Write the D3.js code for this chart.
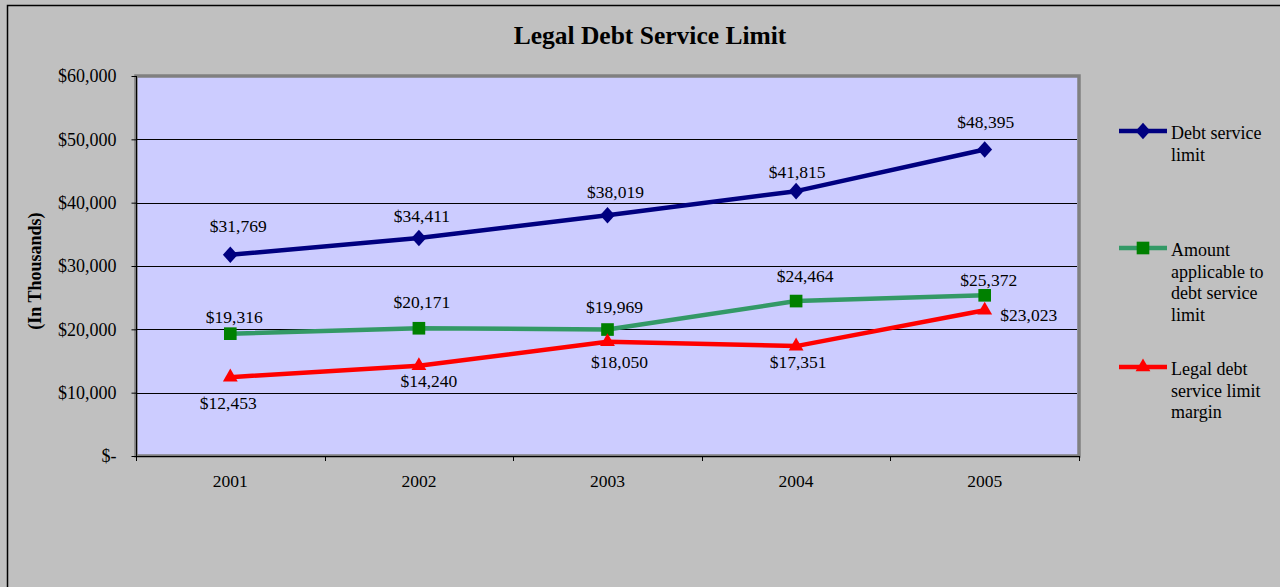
<!DOCTYPE html>
<html>
<head>
<meta charset="utf-8">
<script src="https://cdn.jsdelivr.net/npm/d3@7/dist/d3.min.js"></script>
<style>
  html, body { margin: 0; padding: 0; background: #C0C0C0; }
  svg { display: block; font-family: "Liberation Serif", "Times New Roman", serif; }
</style>
</head>
<body>
<svg id="chart" width="1280" height="587"></svg>
<script>
// ---- Data ----
const years = ["2001", "2002", "2003", "2004", "2005"];
const debtServiceLimit = [31769, 34411, 38019, 41815, 48395];
const amountApplicable = [19316, 20171, 19969, 24464, 25372];
const legalMargin = [12453, 14240, 18050, 17351, 23023];
const yTicks = [0, 10000, 20000, 30000, 40000, 50000, 60000];
const seriesNames = [["Debt service", "limit"], ["Amount", "applicable to", "debt service", "limit"], ["Legal debt", "service limit", "margin"]];

// label placement offsets (layout only)
const labelOffsets = [
  [[8, -29], [3, -22], [8, -23], [1, -19], [1, -27]],
  [[4, -17], [3, -26], [7, -23], [9, -25], [4, -15]],
  [[-2, 26], [10, 15], [12, 20], [2, 16], [44, 5]]
];

const svg = d3.select("#chart");
const W = 1280, H = 587;

// outer frame
svg.append("rect").attr("x", 0).attr("y", 0).attr("width", W).attr("height", H).attr("fill", "#C0C0C0");
svg.append("rect").attr("x", 7.5).attr("y", 5.5).attr("width", W + 10).attr("height", H + 10)
  .attr("fill", "none").attr("stroke", "#000").attr("stroke-width", 1.5);

const plot = { left: 136, top: 76, right: 1079, bottom: 456 };

const x = d3.scaleBand().domain(years).range([plot.left, plot.right]).padding(0);
const y = d3.scaleLinear().domain([0, 60000]).range([plot.bottom, plot.top]);
const cx = d => x(d) + x.bandwidth() / 2;

// plot area
svg.append("rect").attr("x", plot.left).attr("y", plot.top)
  .attr("width", plot.right - plot.left).attr("height", plot.bottom - plot.top)
  .attr("fill", "#CCCCFF").attr("stroke", "#808080").attr("stroke-width", 3.5);

// gridlines
svg.append("g").selectAll("line").data(yTicks.filter(v => v > 0 && v < 60000)).join("line")
  .attr("x1", plot.left).attr("x2", plot.right - 2)
  .attr("y1", d => Math.round(y(d)) + 0.5).attr("y2", d => Math.round(y(d)) + 0.5)
  .attr("stroke", "#000").attr("stroke-width", 1);

// y axis
const yAxis = d3.axisLeft(y).tickValues(yTicks).tickSize(5).tickPadding(15)
  .tickFormat(d => d === 0 ? "$-" : "$" + d3.format(",")(d));
const gy = svg.append("g").attr("transform", `translate(${plot.left + 0.5},0)`).call(yAxis);
gy.select(".domain").attr("stroke", "#000").attr("d", `M0,${plot.top}V${plot.bottom}`);
gy.selectAll(".tick line").attr("stroke", "#000");
gy.selectAll(".tick text").attr("font-size", 18).attr("fill", "#000")
  .attr("font-family", "Liberation Serif");

// x axis
const xAxis = d3.axisBottom(x).tickSize(0).tickPadding(18);
const gx = svg.append("g").attr("transform", `translate(0,${plot.bottom + 0.5})`).call(xAxis);
gx.select(".domain").attr("stroke", "#000").attr("d", `M${plot.left},0H${plot.right}`);
gx.selectAll(".tick text").attr("font-size", 17.5).attr("fill", "#000").attr("font-family", "Liberation Serif");
// category boundary ticks
const bounds = years.map(d => x(d)).concat([plot.right]);
svg.append("g").selectAll("line").data(bounds).join("line")
  .attr("x1", d => Math.round(d) + 0.5).attr("x2", d => Math.round(d) + 0.5)
  .attr("y1", plot.bottom).attr("y2", plot.bottom + 5)
  .attr("stroke", "#000");

// title
svg.append("text").attr("x", 650).attr("y", 44).attr("text-anchor", "middle")
  .attr("font-size", 25.5).attr("font-weight", "bold").text("Legal Debt Service Limit");

// y title
svg.append("text").attr("transform", "translate(41,271) rotate(-90)").attr("text-anchor", "middle")
  .attr("font-size", 18).attr("font-weight", "bold").text("(In Thousands)");

// series
const series = [
  { values: debtServiceLimit, line: "#000080", marker: "#000080", shape: d3.symbolSquare, size: 110, rot: 45, sy: 1.12 },
  { values: amountApplicable, line: "#339966", marker: "#008000", shape: d3.symbolSquare, size: 160, rot: 0, sy: 1 },
  { values: legalMargin, line: "#FF0000", marker: "#FF0000", shape: d3.symbolTriangle, size: 95, rot: 0, sy: 1 }
];

const lineGen = d3.line().x((d, i) => cx(years[i])).y(d => y(d));

series.forEach((s, si) => {
  const g = svg.append("g");
  g.append("path").attr("d", lineGen(s.values)).attr("fill", "none")
    .attr("stroke", s.line).attr("stroke-width", 4.5).attr("stroke-linejoin", "round");
  g.selectAll("path.m").data(s.values).join("path").attr("class", "m")
    .attr("transform", (d, i) => `translate(${cx(years[i])},${y(d)}) scale(1,${s.sy}) rotate(${s.rot})`)
    .attr("d", d3.symbol().type(s.shape).size(s.size)).attr("fill", s.marker);
  g.selectAll("text").data(s.values).join("text")
    .attr("x", (d, i) => cx(years[i]) + labelOffsets[si][i][0])
    .attr("y", (d, i) => y(d) + labelOffsets[si][i][1] + 6)
    .attr("text-anchor", "middle").attr("font-size", 17.5).attr("fill", "#000")
    .text(d => "$" + d3.format(",")(d));
});

// legend
const legendY = [131, 248, 367];
series.forEach((s, si) => {
  const g = svg.append("g");
  g.append("line").attr("x1", 1119).attr("x2", 1167).attr("y1", legendY[si]).attr("y2", legendY[si])
    .attr("stroke", s.line).attr("stroke-width", 4.5);
  g.append("path").attr("transform", `translate(1143,${legendY[si]}) scale(1,${s.sy}) rotate(${s.rot})`)
    .attr("d", d3.symbol().type(s.shape).size(s.size)).attr("fill", s.marker);
  const t = g.append("text").attr("x", 1171).attr("y", legendY[si] + 8).attr("font-size", 18).attr("fill", "#000");
  seriesNames[si].forEach((ln, li) => {
    t.append("tspan").attr("x", 1171).attr("dy", li === 0 ? 0 : 21.5).text(ln);
  });
});
</script>
</body>
</html>
